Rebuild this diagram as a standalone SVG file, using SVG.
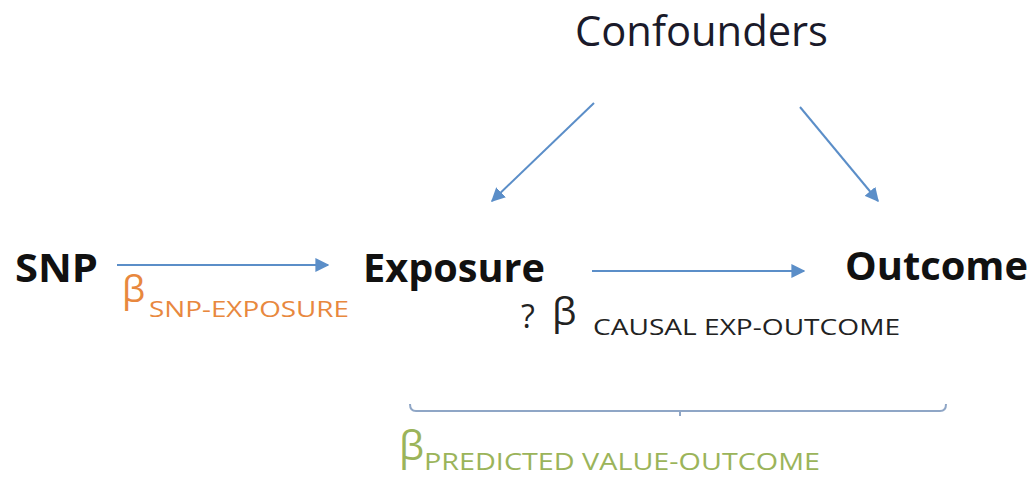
<svg xmlns="http://www.w3.org/2000/svg" width="1032" height="479" viewBox="0 0 1032 479">
<style>
.t{font-family:"Open Sans","Liberation Sans",sans-serif;}
.b{font-weight:bold;fill:#111;font-size:40px;}
.c{stroke:#5b8ec8;stroke-width:2;fill:none;}
</style>
<defs>
<marker id="ah2" viewBox="0 0 10 10" refX="9" refY="5" markerWidth="14" markerHeight="14" orient="auto" markerUnits="userSpaceOnUse">
<path d="M0,0 L10,5 L0,10 z" fill="#5b8ec8"/>
</marker>
</defs>
<rect width="1032" height="479" fill="#fff"/>
<g id="connectors">
<line class="c" x1="117" y1="265" x2="328" y2="265" marker-end="url(#ah2)"/>
<line class="c" x1="592" y1="271" x2="804" y2="271" marker-end="url(#ah2)"/>
<line class="c" x1="594" y1="103" x2="492" y2="201" marker-end="url(#ah2)"/>
<line class="c" x1="800" y1="107" x2="878" y2="201" marker-end="url(#ah2)"/>
<path d="M410,404 Q410,411 416,411 L940,411 Q946,411 946,404 M680,411 L680,416" stroke="#8fa6c6" stroke-width="2" fill="none"/>
</g>
<g id="confounders"><text class="t" x="575" y="46" font-size="42" fill="#1a1a2a" textLength="253" lengthAdjust="spacingAndGlyphs">Confounders</text></g>
<g id="snp"><text class="t b" x="15" y="282" textLength="83" lengthAdjust="spacingAndGlyphs">SNP</text></g>
<g id="exposure"><text class="t b" x="363" y="282" textLength="182" lengthAdjust="spacingAndGlyphs">Exposure</text></g>
<g id="outcome"><text class="t b" x="845" y="280" textLength="183" lengthAdjust="spacingAndGlyphs">Outcome</text></g>
<g id="beta-snp-exposure" fill="#e8883e">
<text class="t" x="122" y="302" font-size="37">β</text>
<text class="t" x="149" y="317" font-size="22" textLength="200" lengthAdjust="spacingAndGlyphs">SNP-EXPOSURE</text>
</g>
<g id="beta-causal" fill="#222">
<text class="t" x="521" y="328" font-size="32">?</text>
<text class="t" x="552" y="325" font-size="39">β</text>
<text class="t" x="593" y="335" font-size="21" textLength="307" lengthAdjust="spacingAndGlyphs">CAUSAL EXP-OUTCOME</text>
</g>
<g id="beta-predicted" fill="#9bb45a">
<text class="t" x="399" y="460" font-size="40">β</text>
<text class="t" x="424" y="470" font-size="23" textLength="396" lengthAdjust="spacingAndGlyphs">PREDICTED VALUE-OUTCOME</text>
</g>
</svg>
